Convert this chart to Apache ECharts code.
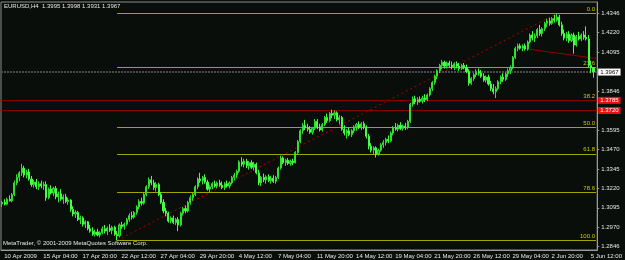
<!DOCTYPE html>
<html><head><meta charset="utf-8">
<script src="https://cdn.jsdelivr.net/npm/echarts@6/dist/echarts.min.js"></script>
<style>html,body{margin:0;padding:0;background:#0a0e0a;}#c{width:625px;height:260px;}</style>
</head><body><div id="c"></div>
<script>
// ---- categories (H4 bars) ----
const days = ['10 Apr','13 Apr','14 Apr','15 Apr','16 Apr','17 Apr','20 Apr','21 Apr','22 Apr','23 Apr','24 Apr',
  '27 Apr','28 Apr','29 Apr','30 Apr','1 May','4 May','5 May','6 May','7 May','8 May','11 May','12 May','13 May','14 May','15 May',
  '18 May','19 May','20 May','21 May','22 May','25 May','26 May','27 May','28 May','29 May','1 Jun','2 Jun','3 Jun','4 Jun','5 Jun','8 Jun'];
const hours = ['00:00','04:00','08:00','12:00','16:00','20:00'];
const firstLabel = '10 Apr 2009';
const xLabelEvery = 16;

// ---- OHLC values ----
const opens = [1.3120,1.3130,1.3118,1.3150,1.3140,1.3180,1.3255,1.3290,1.3320,1.3350,
1.3305,1.3325,1.3280,1.3245,1.3260,1.3230,1.3250,1.3235,1.3245,1.3160,
1.3215,1.3190,1.3220,1.3165,1.3185,1.3150,1.3165,1.3135,1.3145,1.3085,
1.3055,1.3065,1.3020,1.3030,1.2990,1.3005,1.2960,1.2945,1.2925,1.2940,
1.2920,1.2935,1.2960,1.2945,1.2965,1.2950,1.2970,1.2925,1.2915,1.2985,
1.2975,1.2990,1.3020,1.3045,1.3035,1.3065,1.3100,1.3135,1.3125,1.3180,
1.3230,1.3275,1.3255,1.3225,1.3245,1.3180,1.3130,1.3075,1.3060,1.3010,
1.3030,1.3000,1.3020,1.2985,1.3060,1.3090,1.3075,1.3130,1.3160,1.3180,
1.3230,1.3280,1.3270,1.3290,1.3260,1.3215,1.3230,1.3250,1.3235,1.3255,
1.3240,1.3225,1.3250,1.3235,1.3255,1.3290,1.3305,1.3330,1.3390,1.3375,
1.3395,1.3365,1.3385,1.3355,1.3375,1.3320,1.3255,1.3290,1.3275,1.3295,
1.3270,1.3285,1.3265,1.3290,1.3350,1.3415,1.3385,1.3400,1.3380,1.3395,
1.3385,1.3450,1.3520,1.3590,1.3625,1.3610,1.3600,1.3580,1.3605,1.3650,
1.3615,1.3595,1.3630,1.3675,1.3655,1.3700,1.3690,1.3705,1.3660,1.3675,
1.3600,1.3575,1.3590,1.3565,1.3590,1.3615,1.3630,1.3610,1.3635,1.3615,
1.3555,1.3490,1.3465,1.3480,1.3440,1.3465,1.3500,1.3515,1.3535,1.3525,
1.3575,1.3610,1.3600,1.3625,1.3605,1.3620,1.3610,1.3650,1.3760,1.3795,
1.3775,1.3790,1.3780,1.3800,1.3790,1.3820,1.3860,1.3900,1.3940,1.3975,
1.4010,1.4030,1.4005,1.4025,1.4010,1.4000,1.4020,1.4005,1.3990,1.4010,
1.3995,1.3970,1.3895,1.3925,1.3950,1.3970,1.3960,1.3940,1.3915,1.3935,
1.3890,1.3860,1.3840,1.3860,1.3905,1.3935,1.3920,1.3955,1.3975,1.3995,
1.4060,1.4120,1.4135,1.4120,1.4135,1.4115,1.4160,1.4205,1.4185,1.4200,
1.4240,1.4215,1.4245,1.4280,1.4295,1.4280,1.4310,1.4300,1.4320,1.4270,
1.4215,1.4185,1.4210,1.4170,1.4205,1.4140,1.4195,1.4180,1.4205,1.4190,
1.4180,1.4010,1.3995];
const highs = [1.3140,1.3150,1.3160,1.3175,1.3190,1.3270,1.3310,1.3330,1.3378,1.3365,
1.3340,1.3345,1.3300,1.3275,1.3280,1.3265,1.3270,1.3262,1.3265,1.3225,
1.3240,1.3230,1.3235,1.3200,1.3215,1.3180,1.3185,1.3160,1.3150,1.3105,
1.3080,1.3075,1.3045,1.3040,1.3015,1.3010,1.2985,1.2970,1.2955,1.2960,
1.2945,1.2975,1.2985,1.2975,1.2990,1.2980,1.2980,1.2945,1.2995,1.3005,
1.3000,1.3030,1.3060,1.3070,1.3075,1.3110,1.3150,1.3160,1.3190,1.3240,
1.3290,1.3300,1.3275,1.3260,1.3255,1.3195,1.3150,1.3095,1.3070,1.3040,
1.3045,1.3030,1.3035,1.3070,1.3100,1.3110,1.3140,1.3175,1.3190,1.3240,
1.3290,1.3320,1.3300,1.3310,1.3275,1.3240,1.3260,1.3270,1.3265,1.3275,
1.3265,1.3260,1.3270,1.3265,1.3300,1.3320,1.3340,1.3400,1.3420,1.3410,
1.3410,1.3395,1.3400,1.3390,1.3385,1.3340,1.3300,1.3315,1.3305,1.3310,
1.3300,1.3305,1.3300,1.3360,1.3430,1.3425,1.3410,1.3415,1.3405,1.3410,
1.3460,1.3530,1.3600,1.3640,1.3660,1.3635,1.3620,1.3615,1.3665,1.3665,
1.3635,1.3640,1.3685,1.3700,1.3710,1.3725,1.3720,1.3715,1.3690,1.3685,
1.3625,1.3600,1.3610,1.3600,1.3625,1.3640,1.3650,1.3645,1.3650,1.3625,
1.3570,1.3510,1.3490,1.3490,1.3475,1.3510,1.3530,1.3545,1.3560,1.3585,
1.3620,1.3640,1.3635,1.3645,1.3630,1.3640,1.3660,1.3770,1.3810,1.3815,
1.3805,1.3810,1.3815,1.3825,1.3830,1.3870,1.3910,1.3950,1.3985,1.4020,
1.4045,1.4040,1.4035,1.4040,1.4035,1.4030,1.4035,1.4025,1.4020,1.4025,
1.4015,1.3985,1.3935,1.3960,1.3985,1.3990,1.3980,1.3960,1.3945,1.3950,
1.3910,1.3890,1.3875,1.3915,1.3945,1.3960,1.3965,1.3990,1.4010,1.4070,
1.4130,1.4150,1.4150,1.4145,1.4150,1.4170,1.4215,1.4230,1.4215,1.4250,
1.4270,1.4255,1.4290,1.4310,1.4315,1.4320,1.4335,1.4343,1.4335,1.4290,
1.4240,1.4225,1.4230,1.4215,1.4220,1.4205,1.4225,1.4215,1.4230,1.4260,
1.4205,1.4040,1.3998];
const lows = [1.3100,1.3110,1.3112,1.3135,1.3130,1.3170,1.3240,1.3265,1.3300,1.3290,
1.3285,1.3270,1.3230,1.3225,1.3215,1.3210,1.3220,1.3210,1.3140,1.3150,
1.3180,1.3170,1.3150,1.3130,1.3140,1.3120,1.3125,1.3115,1.3070,1.3040,
1.3030,1.3010,1.2990,1.2975,1.2965,1.2950,1.2935,1.2915,1.2910,1.2912,
1.2905,1.2925,1.2930,1.2920,1.2940,1.2925,1.2915,1.2885,1.2905,1.2960,
1.2955,1.2980,1.3005,1.3020,1.3025,1.3050,1.3085,1.3110,1.3115,1.3170,
1.3215,1.3240,1.3210,1.3200,1.3170,1.3120,1.3060,1.3040,1.3000,1.2995,
1.2990,1.2985,1.2945,1.2975,1.3045,1.3060,1.3065,1.3115,1.3140,1.3170,
1.3215,1.3255,1.3245,1.3250,1.3205,1.3195,1.3215,1.3225,1.3220,1.3230,
1.3215,1.3210,1.3225,1.3220,1.3245,1.3270,1.3285,1.3320,1.3360,1.3355,
1.3350,1.3340,1.3345,1.3335,1.3310,1.3240,1.3235,1.3260,1.3250,1.3260,
1.3250,1.3255,1.3250,1.3280,1.3340,1.3375,1.3365,1.3370,1.3365,1.3370,
1.3380,1.3440,1.3510,1.3570,1.3595,1.3585,1.3570,1.3565,1.3595,1.3600,
1.3585,1.3585,1.3620,1.3640,1.3645,1.3670,1.3665,1.3650,1.3630,1.3590,
1.3560,1.3540,1.3555,1.3550,1.3575,1.3590,1.3600,1.3595,1.3600,1.3540,
1.3470,1.3450,1.3440,1.3418,1.3430,1.3455,1.3480,1.3495,1.3510,1.3515,
1.3560,1.3590,1.3585,1.3595,1.3590,1.3595,1.3600,1.3640,1.3745,1.3760,
1.3755,1.3770,1.3765,1.3775,1.3780,1.3810,1.3845,1.3885,1.3920,1.3960,
1.3985,1.3990,1.3990,1.3995,1.3985,1.3980,1.3990,1.3975,1.3980,1.3985,
1.3960,1.3880,1.3885,1.3910,1.3935,1.3945,1.3930,1.3905,1.3900,1.3880,
1.3845,1.3825,1.3800,1.3850,1.3890,1.3905,1.3910,1.3935,1.3955,1.3985,
1.4050,1.4100,1.4110,1.4100,1.4105,1.4105,1.4150,1.4170,1.4160,1.4185,
1.4200,1.4195,1.4230,1.4255,1.4265,1.4270,1.4285,1.4290,1.4260,1.4200,
1.4170,1.4165,1.4155,1.4160,1.4085,1.4130,1.4170,1.4165,1.4175,1.4170,
1.3995,1.3960,1.3931];
const closes = [1.3130,1.3118,1.3150,1.3140,1.3180,1.3255,1.3290,1.3320,1.3350,1.3305,
1.3325,1.3280,1.3245,1.3260,1.3230,1.3250,1.3235,1.3245,1.3160,1.3215,
1.3190,1.3220,1.3165,1.3185,1.3150,1.3165,1.3135,1.3145,1.3085,1.3055,
1.3065,1.3020,1.3030,1.2990,1.3005,1.2960,1.2945,1.2925,1.2940,1.2920,
1.2935,1.2960,1.2945,1.2965,1.2950,1.2970,1.2925,1.2915,1.2985,1.2975,
1.2990,1.3020,1.3045,1.3035,1.3065,1.3100,1.3135,1.3125,1.3180,1.3230,
1.3275,1.3255,1.3225,1.3245,1.3180,1.3130,1.3075,1.3060,1.3010,1.3030,
1.3000,1.3020,1.2985,1.3060,1.3090,1.3075,1.3130,1.3160,1.3180,1.3230,
1.3280,1.3270,1.3290,1.3260,1.3215,1.3230,1.3250,1.3235,1.3255,1.3240,
1.3225,1.3250,1.3235,1.3255,1.3290,1.3305,1.3330,1.3390,1.3375,1.3395,
1.3365,1.3385,1.3355,1.3375,1.3320,1.3255,1.3290,1.3275,1.3295,1.3270,
1.3285,1.3265,1.3290,1.3350,1.3415,1.3385,1.3400,1.3380,1.3395,1.3385,
1.3450,1.3520,1.3590,1.3625,1.3610,1.3600,1.3580,1.3605,1.3650,1.3615,
1.3595,1.3630,1.3675,1.3655,1.3700,1.3690,1.3705,1.3660,1.3675,1.3600,
1.3575,1.3590,1.3565,1.3590,1.3615,1.3630,1.3610,1.3635,1.3615,1.3555,
1.3490,1.3465,1.3480,1.3440,1.3465,1.3500,1.3515,1.3535,1.3525,1.3575,
1.3610,1.3600,1.3625,1.3605,1.3620,1.3610,1.3650,1.3760,1.3795,1.3775,
1.3790,1.3780,1.3800,1.3790,1.3820,1.3860,1.3900,1.3940,1.3975,1.4010,
1.4030,1.4005,1.4025,1.4010,1.4000,1.4020,1.4005,1.3990,1.4010,1.3995,
1.3970,1.3895,1.3925,1.3950,1.3970,1.3960,1.3940,1.3915,1.3935,1.3890,
1.3860,1.3840,1.3860,1.3905,1.3935,1.3920,1.3955,1.3975,1.3995,1.4060,
1.4120,1.4135,1.4120,1.4135,1.4115,1.4160,1.4205,1.4185,1.4200,1.4240,
1.4215,1.4245,1.4280,1.4295,1.4280,1.4310,1.4300,1.4320,1.4270,1.4215,
1.4185,1.4210,1.4170,1.4205,1.4140,1.4195,1.4180,1.4205,1.4190,1.4180,
1.4010,1.3995,1.3967];

// ---- axis / objects ----
const priceTicks = [1.4346,1.4220,1.4095,1.3846,1.3595,1.3470,1.3345,1.3220,1.3095,1.2970,1.2846];
const fibNames = ['0.0','23.6','38.2','50.0','61.8','78.6','100.0'];
const fibRatios = [0, 0.236, 0.382, 0.5, 0.618, 0.786, 1];
const fibHigh = 1.4343, fibLow = 1.2885, fibStartBar = 47;
const redLevels = [1.3785, 1.3720];
const redLabels = ['1.3785', '1.3720'];
const bidPrice = 1.3967;
const bidLabel = '1.3967';
const trendUpBars = [47, 227], trendUpPrices = [1.2885, 1.4343];
const trendDnBars = [215, 243], trendDnPrices = [1.4115, 1.4055];
const titleText = 'EURUSD,H4  1.3995 1.3998 1.3931 1.3967';
const footerText = 'MetaTrader, \u00a9 2001-2009 MetaQuotes Software Corp.';

const allCats = [];
days.forEach(d => hours.forEach(h => allCats.push(d + ' ' + h)));
const categories = allCats.slice(3, 3 + 244);
const candles = opens.map((o, i) => [o, closes[i], lows[i], highs[i]]);
const lastCat = categories[categories.length - 1];

const FONT = 'Liberation Sans';
const TXT = '#e6e6e6';
const FIB = '#a4a400';

const chart = echarts.init(document.getElementById('c'), null, {renderer: 'canvas'});
chart.setOption({
  animation: false,
  backgroundColor: '#0a0e0a',
  textStyle: {fontFamily: FONT},
  grid: {left: 1, right: 24, top: 2, bottom: 10, show: true, borderColor: '#8c8c8c', borderWidth: 1},
  graphic: [
    {type: 'text', left: 4, top: 3, style: {text: titleText, fill: TXT, font: '6px ' + FONT}},
    {type: 'text', left: 3, top: 240, style: {text: footerText, fill: TXT, font: '6px ' + FONT}}
  ],
  xAxis: {
    type: 'category', data: categories, boundaryGap: true,
    axisLine: {lineStyle: {color: '#9a9a9a'}},
    axisTick: {alignWithLabel: true, interval: (i) => i % xLabelEvery === 0, length: 3, lineStyle: {color: '#9a9a9a'}},
    axisLabel: {interval: (i) => i % xLabelEvery === 0, formatter: (v, i) => i === 0 ? firstLabel : v,
      color: TXT, fontSize: 6, align: 'left', margin: 3, padding: [0, 0, 0, 2], fontFamily: FONT},
    splitLine: {show: false}
  },
  yAxis: {
    type: 'value', position: 'right', min: 1.2824, max: 1.4417, scale: true,
    splitLine: {show: false},
    axisLine: {show: true, lineStyle: {color: '#9a9a9a'}},
    axisTick: {show: true, customValues: priceTicks, length: 2, lineStyle: {color: '#9a9a9a'}},
    axisLabel: {customValues: priceTicks, formatter: v => v.toFixed(4), color: TXT, fontSize: 6, margin: 4, fontFamily: FONT}
  },
  series: [
    {
      type: 'line', data: [], z: 1, silent: true,
      markLine: {
        symbol: ['none', 'none'], silent: true, precision: 4,
        lineStyle: {color: FIB, type: 'solid', width: 1},
        label: {position: 'insideEndTop', color: '#c8c800', fontSize: 6, distance: 1, fontFamily: FONT},
        data: fibRatios.map((r, k) => {
          const p = fibHigh - r * (fibHigh - fibLow);
          return [{coord: [categories[fibStartBar], p], label: {formatter: fibNames[k]}}, {coord: [lastCat, p]}];
        })
      }
    },
    {
      type: 'line', data: [], z: 2, silent: true,
      markLine: {
        symbol: ['none', 'none'], silent: true, precision: 4,
        lineStyle: {color: '#4a4a4a', type: [2, 1], width: 2},
        label: {position: 'end', distance: 1, backgroundColor: '#ffffff', color: '#000', fontSize: 6,
          padding: [1, 2, 0, 2], formatter: bidLabel, fontFamily: FONT},
        data: [{yAxis: bidPrice}]
      }
    },
    {
      type: 'line', data: [], z: 3, silent: true,
      markLine: {
        symbol: ['none', 'none'], silent: true, precision: 4,
        lineStyle: {color: '#8a0000', type: 'solid', width: 1},
        label: {position: 'end', distance: 1, backgroundColor: '#e81010', color: '#fff', fontSize: 6,
          padding: [1, 2, 0, 2], fontFamily: FONT},
        data: redLevels.map((v, k) => ({yAxis: v, label: {formatter: redLabels[k]}}))
      }
    },
    {
      type: 'line', z: 4, silent: true, showSymbol: false,
      data: trendUpBars.map((b, k) => [categories[b], trendUpPrices[k]]),
      lineStyle: {color: '#b00000', type: [2, 3], width: 1}
    },
    {
      type: 'line', z: 4, silent: true, showSymbol: false,
      data: trendDnBars.map((b, k) => [categories[b], trendDnPrices[k]]),
      lineStyle: {color: '#900000', type: 'solid', width: 1}
    },
    {
      type: 'candlestick', z: 5, data: candles, barWidth: 1.6,
      itemStyle: {color: '#1c9c1c', color0: '#44ff44', borderColor: '#30e030', borderColor0: '#44ff44', borderWidth: 1}
    }
  ]
});
</script></body></html>
